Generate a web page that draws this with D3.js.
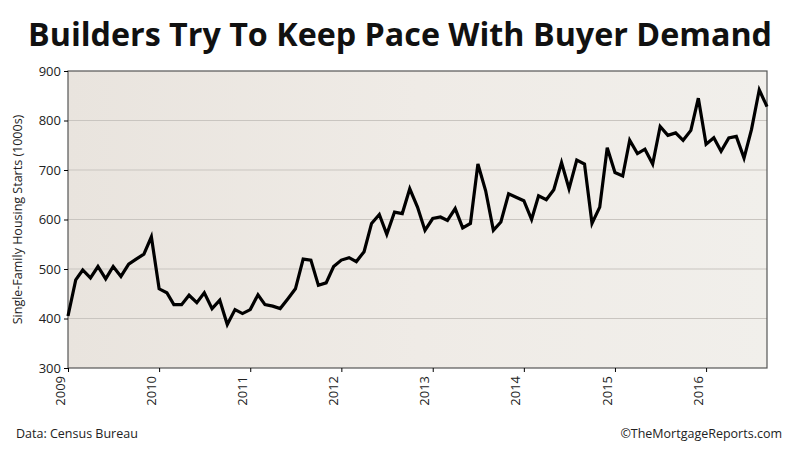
<!DOCTYPE html>
<html><head><meta charset="utf-8">
<script src="https://cdn.jsdelivr.net/npm/d3@7"></script>
<style>body{margin:0;background:#fff}</style></head>
<body><svg id="c" width="800" height="450"></svg>
<script>
const startYear = 2009;
const values = [
405,478,498,482,505,480,505,485,510,520,530,565,
460,452,428,428,447,432,452,420,437,388,418,410,
418,448,428,425,420,440,460,520,518,467,472,505,
518,523,515,535,592,610,570,615,612,662,625,578,
602,605,598,622,583,592,712,658,578,595,652,645,
638,600,648,640,660,715,662,720,712,592,625,745,
695,688,760,733,742,712,788,770,775,760,780,845,
752,765,738,765,768,724,782,862,828];
const yTicks = [300,400,500,600,700,800,900];
const yearTicks = [2009,2010,2011,2012,2013,2014,2015,2016];

const svg = d3.select("#c");
const L=68,R=767,T=71,B=368;
const dates = values.map((v,i)=>new Date(startYear, i, 1));
const x = d3.scaleTime().domain([dates[0], dates[dates.length-1]]).range([L,R]);
const y = d3.scaleLinear().domain([300,900]).range([B,T]);

svg.append("text").attr("x",400).attr("y",46).attr("text-anchor","middle")
 .attr("font-family","Open Sans, sans-serif").attr("font-weight","bold").attr("font-size",32)
 .attr("textLength",744).attr("lengthAdjust","spacingAndGlyphs")
 .attr("fill","#111").text("Builders Try To Keep Pace With Buyer Demand");

const bg = svg.append("defs").append("linearGradient").attr("id","g").attr("x1",0).attr("x2",1);
bg.append("stop").attr("offset",0).attr("stop-color","#e9e4de");
bg.append("stop").attr("offset",0.5).attr("stop-color","#efebe6");
bg.append("stop").attr("offset",1).attr("stop-color","#f1efeb");
svg.append("rect").attr("x",L).attr("y",T).attr("width",R-L).attr("height",B-T).attr("fill","url(#g)");

svg.append("g").selectAll("line").data(yTicks.slice(1,-1)).join("line")
 .attr("x1",L).attr("x2",R).attr("y1",d=>y(d)).attr("y2",d=>y(d)).attr("stroke","#c9c5c0").attr("stroke-width",1);

svg.append("rect").attr("x",L).attr("y",T).attr("width",R-L).attr("height",B-T)
 .attr("fill","none").attr("stroke","#555").attr("stroke-width",1.2);

const ya = svg.append("g").attr("transform",`translate(${L},0)`)
 .call(d3.axisLeft(y).tickValues(yTicks).tickSize(4).tickFormat(d3.format("d")));
ya.select(".domain").remove();
ya.selectAll("text").attr("font-family","Open Sans, sans-serif").attr("font-size",13).attr("fill","#222");

const xa = svg.append("g").attr("transform",`translate(0,${B})`)
 .call(d3.axisBottom(x).tickValues(yearTicks.map(yr=>new Date(yr,0,1))).tickSize(4).tickFormat(d3.timeFormat("%Y")));
xa.select(".domain").remove();
xa.selectAll("text").attr("font-family","Open Sans, sans-serif").attr("font-size",13).attr("fill","#222")
 .attr("transform","rotate(-90)").attr("text-anchor","end").attr("dx","-6").attr("dy","-0.3em").attr("y",0).attr("x",-2);

svg.append("text").attr("transform",`translate(22,${(T+B)/2}) rotate(-90)`).attr("text-anchor","middle")
 .attr("font-family","Open Sans, sans-serif").attr("font-size",12.5).attr("fill","#222")
 .text("Single-Family Housing Starts (1000s)");

svg.append("path").datum(values).attr("fill","none").attr("stroke","#000").attr("stroke-width",3.2)
 .attr("stroke-linejoin","miter")
 .attr("d",d3.line().x((d,i)=>x(dates[i])).y(d=>y(d)));

svg.append("text").attr("x",16).attr("y",438).attr("font-family","Open Sans, sans-serif").attr("font-size",12.5).attr("fill","#222").text("Data: Census Bureau");
svg.append("text").attr("x",782).attr("y",438).attr("text-anchor","end").attr("font-family","Open Sans, sans-serif").attr("font-size",12.5).attr("fill","#222").text("©TheMortgageReports.com");
</script></body></html>
